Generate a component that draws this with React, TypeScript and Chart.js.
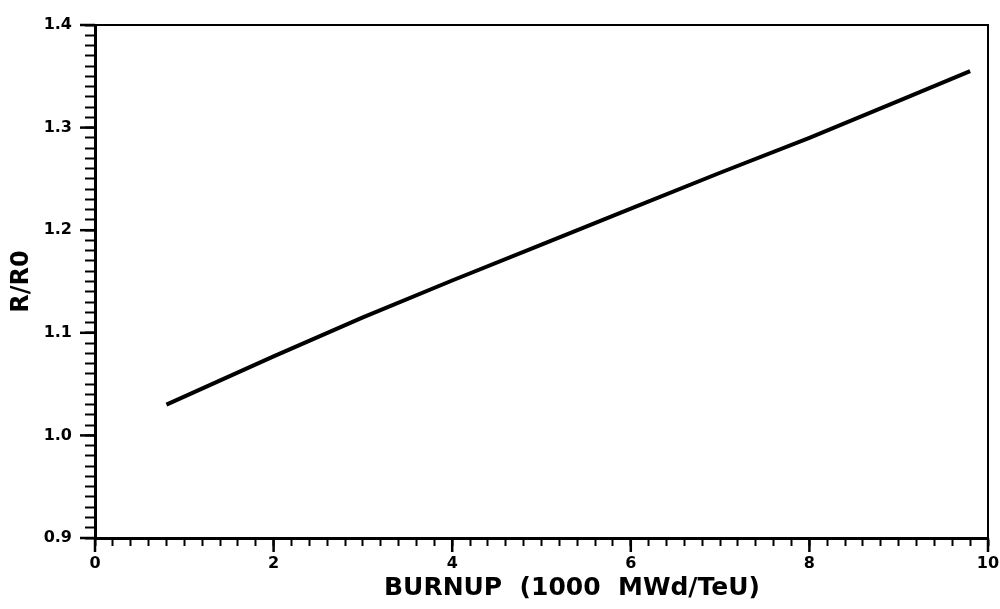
import React, { useEffect, useRef } from "react";
import { Chart, registerables } from "chart.js";

Chart.register(...registerables);

const burnup = [0.8, 2, 3, 4, 5, 6, 7, 8, 9, 9.8];
const ratio = [1.03, 1.077, 1.115, 1.151, 1.186, 1.221, 1.256, 1.29, 1.326, 1.355];
const xMajorTicks = [0, 2, 4, 6, 8, 10];
const yMajorTicks = [0.9, 1.0, 1.1, 1.2, 1.3, 1.4];
const xTitle = "       BURNUP  (1000  MWd/TeU)";
const yTitle = "R/R0";

const isMajor = (v: number, majors: number[]) => majors.some((m) => Math.abs(m - v) < 1e-6);

const framePlugin = {
  id: "frameAndMajors",
  afterDraw(chart: any) {
    const { ctx, chartArea } = chart;
    const { left, right, top, bottom } = chartArea;
    ctx.save();
    ctx.strokeStyle = "#000";
    ctx.lineWidth = 2;
    ctx.beginPath();
    ctx.moveTo(left, top);
    ctx.lineTo(right, top);
    ctx.lineTo(right, bottom);
    ctx.stroke();
    ctx.lineWidth = 2.5;
    const xs = chart.scales.x;
    xMajorTicks.forEach((v) => {
      const px = xs.getPixelForValue(v);
      ctx.beginPath();
      ctx.moveTo(px, bottom);
      ctx.lineTo(px, bottom + 14);
      ctx.stroke();
    });
    const ys = chart.scales.y;
    yMajorTicks.forEach((v) => {
      const py = ys.getPixelForValue(v);
      ctx.beginPath();
      ctx.moveTo(left, py);
      ctx.lineTo(left - 15, py);
      ctx.stroke();
    });
    ctx.restore();
  },
};

export default function App() {
  const ref = useRef<HTMLCanvasElement>(null);
  useEffect(() => {
    if (!ref.current) return;
    const font = "'DejaVu Sans', sans-serif";
    const chart = new Chart(ref.current, {
      type: "line",
      data: {
        datasets: [
          {
            data: burnup.map((x, i) => ({ x, y: ratio[i] })),
            borderColor: "#000",
            borderWidth: 4,
            pointRadius: 0,
            tension: 0,
            fill: false,
          },
        ],
      },
      options: {
        animation: false,
        responsive: false,
        layout: { padding: { left: 0, top: 25, right: 12, bottom: 0 } },
        plugins: { legend: { display: false }, tooltip: { enabled: false } },
        scales: {
          x: {
            type: "linear",
            min: 0,
            max: 10,
            grid: { drawOnChartArea: false, drawTicks: true, tickLength: 8, tickColor: "#000", tickWidth: 2 },
            border: { display: true, color: "#000", width: 3 },
            ticks: {
              stepSize: 0.2,
              autoSkip: false,
              maxRotation: 0,
              padding: 8,
              color: "#000",
              font: { family: font, size: 16, weight: "bold" },
              callback: (v: any) => (isMajor(Number(v), xMajorTicks) ? String(Math.round(Number(v))) : ""),
            },
            title: {
              display: true,
              text: xTitle,
              color: "#000",
              font: { family: font, size: 25, weight: "bold" },
              padding: { top: 6, bottom: 6 },
            },
            afterFit: (s: any) => {
              s.height = 71;
              s.paddingLeft = 0;
              s.paddingRight = 0;
            },
          },
          y: {
            type: "linear",
            min: 0.9,
            max: 1.4,
            grid: { drawOnChartArea: false, drawTicks: true, tickLength: 10, tickColor: "#000", tickWidth: 2 },
            border: { display: true, color: "#000", width: 3 },
            ticks: {
              stepSize: 0.01,
              autoSkip: false,
              padding: 13,
              color: "#000",
              font: { family: font, size: 16, weight: "bold" },
              callback: (v: any) => (isMajor(Number(v), yMajorTicks) ? Number(v).toFixed(1) : ""),
            },
            title: {
              display: true,
              text: yTitle,
              color: "#000",
              font: { family: font, size: 24, weight: "bold" },
              padding: { top: 7, bottom: 7 },
            },
            afterFit: (s: any) => {
              s.width = 95;
              s.paddingTop = 0;
              s.paddingBottom = 0;
            },
          },
        },
      },
      plugins: [framePlugin],
    });
    return () => chart.destroy();
  }, []);
  return (
    <div style={{ position: "fixed", left: 0, top: 0, width: 1000, height: 609, background: "#fff" }}>
      <canvas ref={ref} width={1000} height={609} />
    </div>
  );
}
